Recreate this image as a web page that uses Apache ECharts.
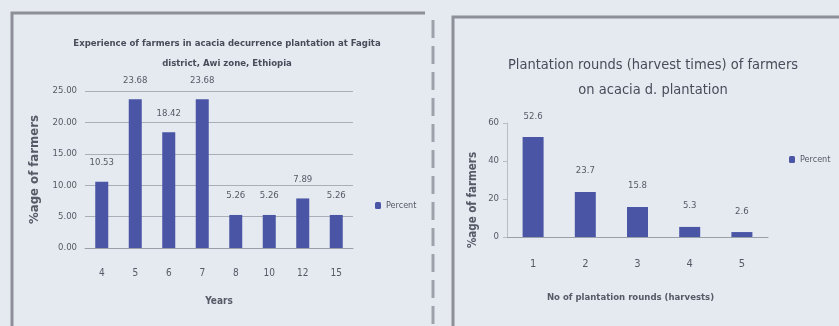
<!DOCTYPE html>
<html><head><meta charset="utf-8">
<script src="https://cdn.jsdelivr.net/npm/echarts@6/dist/echarts.min.js"></script>
<style>html,body{margin:0;padding:0;background:#e5e9f0}#c{width:839px;height:326px}</style>
</head><body><div id="c"></div>
<script>
const yearCats = ['4','5','6','7','8','10','12','15'];
const yearPercent = [10.53, 23.68, 18.42, 23.68, 5.26, 5.26, 7.89, 5.26];
const roundCats = ['1','2','3','4','5'];
const roundPercent = [52.6, 23.7, 15.8, 5.3, 2.6];
const leftTitle = 'Experience of farmers in acacia decurrence plantation at Fagita\ndistrict, Awi zone, Ethiopia';
const rightTitle = 'Plantation rounds (harvest times) of farmers\non acacia d. plantation';
const seriesName = 'Percent';

const FONT = '"DejaVu Sans Condensed", "Liberation Sans Narrow", "Open Sans", sans-serif';
const BAR = '#4a55a6';
const TXT = '#555a66';
const chart = echarts.init(document.getElementById('c'));
chart.setOption({
  backgroundColor: '#e5e9f0',
  animation: false,
  textStyle: {fontFamily: FONT},
  title: [
    {text: leftTitle, left: 222, top: 29, textAlign: 'center',
     textStyle: {fontSize: 9.5, fontWeight: 'bold', color: '#474c59', lineHeight: 20, fontFamily: FONT, letterSpacing: -0.4}},
    {text: rightTitle, left: 648, top: 48, textAlign: 'center',
     textStyle: {fontSize: 14.5, fontWeight: 'normal', color: '#474c59', lineHeight: 25, fontFamily: FONT, letterSpacing: -0.7}}
  ],
  legend: [
    {data: [seriesName], left: 370, top: 196, itemWidth: 6, itemHeight: 7, itemGap: 2,
     textStyle: {fontSize: 9, color: TXT, fontFamily: FONT}},
    {data: [seriesName], left: 784, top: 150, itemWidth: 6, itemHeight: 7, itemGap: 2,
     textStyle: {fontSize: 9, color: TXT, fontFamily: FONT}}
  ],
  grid: [
    {left: 85, right: 486, top: 91, bottom: 78},
    {left: 507, right: 71, top: 123, bottom: 89}
  ],
  xAxis: [
    {gridIndex: 0, type: 'category', data: yearCats,
     name: 'Years', nameLocation: 'middle', nameGap: 48,
     nameTextStyle: {fontSize: 10, fontWeight: 'bold', color: TXT, fontFamily: FONT},
     axisLine: {lineStyle: {color: '#9aa0aa'}}, axisTick: {show: false},
     axisLabel: {fontSize: 10, color: TXT, margin: 20, fontFamily: FONT}},
    {gridIndex: 1, type: 'category', data: roundCats,
     name: 'No of plantation rounds (harvests)', nameLocation: 'middle', nameGap: 56,
     nameTextStyle: {fontSize: 9.5, fontWeight: 'bold', color: TXT, fontFamily: FONT, padding: [0, 14, 0, 0]},
     axisLine: {lineStyle: {color: '#9aa0aa'}}, axisTick: {show: false},
     axisLabel: {fontSize: 11, color: TXT, margin: 22, fontFamily: FONT}}
  ],
  yAxis: [
    {gridIndex: 0, type: 'value', min: 0, max: 25, interval: 5,
     name: '%age of farmers', nameLocation: 'middle', nameGap: 44,
     nameTextStyle: {fontSize: 13, fontWeight: 'bold', color: TXT, fontFamily: FONT},
     axisLine: {show: false}, axisTick: {show: false},
     splitLine: {lineStyle: {color: '#a9aeb8'}},
     axisLabel: {fontSize: 9.5, color: TXT, margin: 8, fontFamily: FONT, formatter: v => v.toFixed(2)}},
    {gridIndex: 1, type: 'value', min: 0, max: 60, interval: 20,
     name: '%age of farmers', nameLocation: 'middle', nameGap: 28,
     nameTextStyle: {fontSize: 11.5, fontWeight: 'bold', color: TXT, fontFamily: FONT, padding: [0, 40, 0, 0]},
     axisLine: {show: true, lineStyle: {color: '#b7bcc5'}},
     axisTick: {show: true, length: 4, lineStyle: {color: '#b7bcc5'}},
     splitLine: {show: false},
     axisLabel: {fontSize: 9.5, color: TXT, margin: 8, fontFamily: FONT}}
  ],
  series: [
    {name: seriesName, type: 'bar', xAxisIndex: 0, yAxisIndex: 0, data: yearPercent,
     barWidth: 13, itemStyle: {color: BAR},
     label: {show: true, position: 'top', distance: 14, fontSize: 9.5, color: TXT, fontFamily: FONT,
             formatter: p => p.value.toFixed(2)}},
    {name: seriesName, type: 'bar', xAxisIndex: 1, yAxisIndex: 1, data: roundPercent,
     barWidth: 21, itemStyle: {color: BAR},
     label: {show: true, position: 'top', distance: 16, fontSize: 9.5, color: TXT, fontFamily: FONT,
             formatter: p => p.value.toFixed(1)}}
  ],
  graphic: [
    {type: 'polyline', shape: {points: [[12, 330], [12, 13], [425, 13]]}, style: {stroke: '#8d9099', lineWidth: 3, fill: null}},
    {type: 'line', shape: {x1: 433, y1: 20, x2: 433, y2: 326}, style: {stroke: '#9da1a9', lineWidth: 3, lineDash: [18, 8]}},
    {type: 'polyline', shape: {points: [[453, 330], [453, 17], [845, 17]]}, style: {stroke: '#8d9099', lineWidth: 3, fill: null}}
  ]
});
</script></body></html>
